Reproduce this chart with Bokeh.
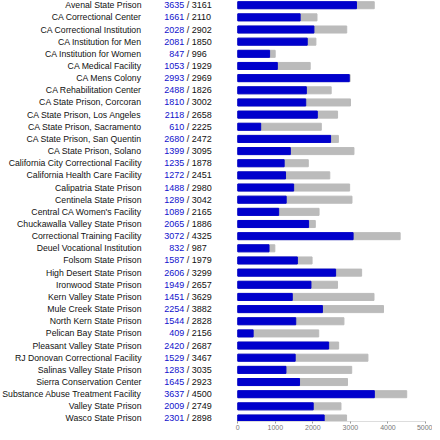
import numpy as np
from bokeh.plotting import figure
from bokeh.models import ColumnDataSource, Range1d, FixedTicker
from bokeh.core.properties import value
from bokeh.embed import file_html
from bokeh.resources import INLINE

names = ["Avenal State Prison", "CA Correctional Center", "CA Correctional Institution",
         "CA Institution for Men", "CA Institution for Women", "CA Medical Facility",
         "CA Mens Colony", "CA Rehabilitation Center", "CA State Prison, Corcoran",
         "CA State Prison, Los Angeles", "CA State Prison, Sacramento", "CA State Prison, San Quentin",
         "CA State Prison, Solano", "California City Correctional Facility",
         "California Health Care Facility", "Calipatria State Prison", "Centinela State Prison",
         "Central CA Women's Facility", "Chuckawalla Valley State Prison",
         "Correctional Training Facility", "Deuel Vocational Institution", "Folsom State Prison",
         "High Desert State Prison", "Ironwood State Prison", "Kern Valley State Prison",
         "Mule Creek State Prison", "North Kern State Prison", "Pelican Bay State Prison",
         "Pleasant Valley State Prison", "RJ Donovan Correctional Facility",
         "Salinas Valley State Prison", "Sierra Conservation Center",
         "Substance Abuse Treatment Facility", "Valley State Prison", "Wasco State Prison"]
population = [3635, 1661, 2028, 2081, 847, 1053, 2993, 2488, 1810, 2118, 610, 2680, 1399, 1235,
              1272, 1488, 1289, 1089, 2065, 3072, 832, 1587, 2606, 1949, 1451, 2254, 1544, 409,
              2420, 1529, 1283, 1645, 3637, 2009, 2301]
capacity = [3161, 2110, 2902, 1850, 996, 1929, 2969, 1826, 3002, 2658, 2225, 2472, 3095, 1878,
            2451, 2980, 3042, 2165, 1886, 4325, 987, 1979, 3299, 2657, 3629, 3882, 2828, 2156,
            2687, 3467, 3035, 2923, 4500, 2749, 2898]
ticks = [0, 1000, 2000, 3000, 4000, 5000]

n = len(names)
pop = np.array(population)
cap = np.array(capacity)
ypos = np.arange(n)[::-1]

src = ColumnDataSource(dict(
    y=ypos,
    x0=np.zeros(n),
    hi=np.maximum(pop, cap),
    lo=np.minimum(pop, cap),
    name=names,
    pop_t=[str(v) for v in population],
    cap_t=["/ " + str(v) for v in capacity],
))

p = figure(width=432, height=432, output_backend="svg", toolbar_location=None,
           x_range=Range1d(-6321, 5187), y_range=Range1d(-0.247, 34.387),
           min_border_left=0, min_border_right=0, min_border_top=0, min_border_bottom=11)
p.outline_line_color = None
p.grid.visible = False
p.yaxis.visible = False

BLUE = "#0000CC"
GRAY = "#BBBBBB"
font = value("Liberation Sans")

p.hbar(y="y", left=0, right="hi", height=0.58, color=GRAY, source=src)
p.hbar(y="y", left=0, right="lo", height=0.58, color=BLUE, source=src)

p.text(x="x0", y="y", text="name", source=src, text_align="right", text_baseline="middle",
       x_offset=-96.3, text_font=font, text_font_size="8.7px", text_color="#111111")
p.text(x="x0", y="y", text="pop_t", source=src, text_align="right", text_baseline="middle",
       x_offset=-53.6, text_font=font, text_font_size="9px", text_color="#1111CC")
p.text(x="x0", y="y", text="cap_t", source=src, text_align="left", text_baseline="middle",
       x_offset=-51.1, text_font=font, text_font_size="9px", text_color="#111111")

ax = p.xaxis[0]
ax.ticker = FixedTicker(ticks=ticks)
ax.bounds = (0, 5000)
ax.minor_tick_line_color = None
ax.major_tick_in = 0
ax.major_tick_out = 2
ax.major_label_standoff = 1
ax.axis_line_color = "#dddddd"
ax.major_tick_line_color = "#999999"
ax.major_label_text_font_size = "7px"
ax.major_label_text_color = "#777777"
ax.major_label_text_font = "Liberation Sans"

open("out.html", "w").write(file_html(p, INLINE))
